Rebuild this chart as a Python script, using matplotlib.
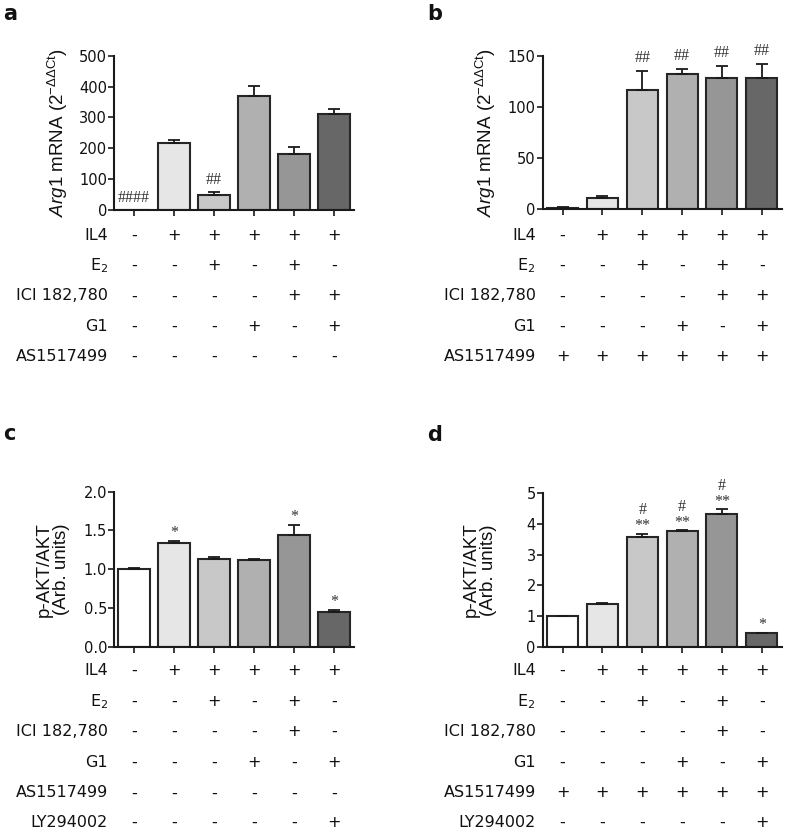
import matplotlib
matplotlib.use("Agg")
import matplotlib.pyplot as plt
from matplotlib.transforms import blended_transform_factory

plt.rcParams['font.family'] = ['DejaVu Sans']
plt.rcParams['mathtext.fontset'] = 'custom'
plt.rcParams['mathtext.rm'] = 'Liberation Sans'
plt.rcParams['mathtext.it'] = 'Liberation Sans:italic'

# ---------------- data ----------------
bar_colors = ["#ffffff", "#e6e6e6", "#c8c8c8", "#b0b0b0", "#969696", "#676767"]

a_values = [1, 216, 49, 368, 181, 310]
a_errors = [0.5, 12, 8, 35, 23, 18]
a_marks = ["####", "", "##", "", "", ""]

b_values = [1.5, 10.8, 116.4, 132.7, 128.8, 128.8]
b_errors = [0.8, 1.9, 19.2, 4.6, 11.4, 13.4]
b_marks = ["", "", "##", "##", "##", "##"]

c_values = [1.0, 1.334, 1.136, 1.123, 1.441, 0.444]
c_errors = [0.015, 0.03, 0.025, 0.015, 0.125, 0.036]
c_marks = ["", "*", "", "", "*", "*"]

d_values = [1.0, 1.39, 3.58, 3.75, 4.32, 0.47]
d_errors = [0.0, 0.04, 0.09, 0.04, 0.14, 0.0]
d_marks = ["", "", "**", "**", "**", "*"]
d_marks2 = ["", "", "#", "#", "#", ""]

rows_ab = ["IL4", "E$_\\mathregular{2}$", "ICI 182,780", "G1", "AS1517499"]
rows_cd = ["IL4", "E$_\\mathregular{2}$", "ICI 182,780", "G1", "AS1517499", "LY294002"]

a_table = [["-", "+", "+", "+", "+", "+"],
           ["-", "-", "+", "-", "+", "-"],
           ["-", "-", "-", "-", "+", "+"],
           ["-", "-", "-", "+", "-", "+"],
           ["-", "-", "-", "-", "-", "-"]]
b_table = [["-", "+", "+", "+", "+", "+"],
           ["-", "-", "+", "-", "+", "-"],
           ["-", "-", "-", "-", "+", "+"],
           ["-", "-", "-", "+", "-", "+"],
           ["+", "+", "+", "+", "+", "+"]]
c_table = [["-", "+", "+", "+", "+", "+"],
           ["-", "-", "+", "-", "+", "-"],
           ["-", "-", "-", "-", "+", "-"],
           ["-", "-", "-", "+", "-", "+"],
           ["-", "-", "-", "-", "-", "-"],
           ["-", "-", "-", "-", "-", "+"]]
d_table = [["-", "+", "+", "+", "+", "+"],
           ["-", "-", "+", "-", "+", "-"],
           ["-", "-", "-", "-", "+", "-"],
           ["-", "-", "-", "+", "-", "+"],
           ["+", "+", "+", "+", "+", "+"],
           ["-", "-", "-", "-", "-", "+"]]

# ---------------- layout ----------------
W, H = 787, 830
fig = plt.figure(figsize=(W / 100, H / 100), dpi=100)


def px_rect(left, top, right, bottom):
    return [left / W, 1 - bottom / H, (right - left) / W, (bottom - top) / H]


def fy(ypx):
    return 1 - ypx / H


def panel(rect, values, errors, ymax, yticks, fmt, ylabel, ylabel_xpx,
          marks_list, rows, table, baselines, letter, letter_xy, label_px):
    ax = fig.add_axes(rect)
    n = len(values)
    x = list(range(n))
    ax.bar(x, values, width=0.78, color=bar_colors, edgecolor="#262626",
           linewidth=1.5, zorder=2)
    ax.errorbar(x, values, yerr=[[0] * n, errors], fmt="none", ecolor="#1a1a1a",
                elinewidth=1.3, capsize=4.5, capthick=1.3, zorder=3)
    ax.set_xlim(-0.5, 5.5)
    ax.set_ylim(0, ymax)
    ax.set_yticks(yticks)
    ax.set_yticklabels([fmt.format(t) for t in yticks])
    ax.set_xticks(x)
    ax.set_xticklabels([""] * n)
    for s in ["top", "right"]:
        ax.spines[s].set_visible(False)
    for s in ["left", "bottom"]:
        ax.spines[s].set_linewidth(1.5)
        ax.spines[s].set_color("#1a1a1a")
    ax.tick_params(axis="both", direction="out", length=4, width=1.2,
                   color="#1a1a1a", labelsize=10.5, labelcolor="#111111", pad=1)
    ax.set_facecolor("none")

    # y label
    bb = ax.get_position()
    fig.text(ylabel_xpx / W, (bb.y0 + bb.y1) / 2, ylabel, rotation=90,
             ha="center", va="center", family="Liberation Sans",
             fontsize=13.5, linespacing=1.0, color="#111111")

    # annotations
    for marks, off in marks_list:
        for i, m in enumerate(marks):
            if not m:
                continue
            o = off - (2 if "*" in m else 0)
            ax.annotate(m, xy=(i, values[i] + errors[i]), xytext=(0, o * 0.72),
                        textcoords="offset points", ha="center", va="center",
                        family="Liberation Serif", fontsize=11.5, color="#333333",
                        annotation_clip=False)

    # treatment table
    tr = blended_transform_factory(ax.transData, fig.transFigure)
    for r, (name, vals, base) in enumerate(zip(rows, table, baselines)):
        fig.text((bb.x0 * W - label_px) / W, fy(base), name, ha="right",
                 va="baseline", fontsize=11.5, color="#111111")
        for i, v in enumerate(vals):
            ax.text(i, fy(base), v, transform=tr, ha="center", va="baseline",
                    fontsize=11.5, color="#111111")

    fig.text(letter_xy[0] / W, fy(letter_xy[1]), letter, ha="left",
             va="baseline", fontsize=15, fontweight="bold", color="#111111")
    return ax


base_ab = [239.5, 270, 300.5, 330.7, 361]
base_cd = [675, 706, 736, 766.7, 797.3, 826.7]

panel(px_rect(114, 55.7, 354, 210), a_values, a_errors, 500,
      [0, 100, 200, 300, 400, 500], "{:.0f}",
      r"$\it{Arg1}$ mRNA (2$^{\mathregular{-\Delta\Delta Ct}}$)", 58,
      [(a_marks, 12)], rows_ab, a_table, base_ab, "a", (3, 20), 6)

panel(px_rect(542.7, 56, 781.7, 209.3), b_values, b_errors, 150,
      [0, 50, 100, 150], "{:.0f}",
      r"$\it{Arg1}$ mRNA (2$^{\mathregular{-\Delta\Delta Ct}}$)", 486,
      [(b_marks, 13)], rows_ab, b_table, base_ab, "b", (427, 20), 7)

panel(px_rect(114, 491.7, 354, 646.7), c_values, c_errors, 2.0,
      [0.0, 0.5, 1.0, 1.5, 2.0], "{:.1f}",
      "p-AKT/AKT\n(Arb. units)", 53,
      [(c_marks, 10)], rows_cd, c_table, base_cd, "c", (3, 440), 6)

panel(px_rect(542.7, 492.7, 781.7, 647.3), d_values, d_errors, 5,
      [0, 1, 2, 3, 4, 5], "{:.0f}",
      "p-AKT/AKT\n(Arb. units)", 480,
      [(d_marks, 9.5), (d_marks2, 23.5)], rows_cd, d_table, base_cd, "d", (427, 441), 7)

fig.savefig("out.png", dpi=100)
